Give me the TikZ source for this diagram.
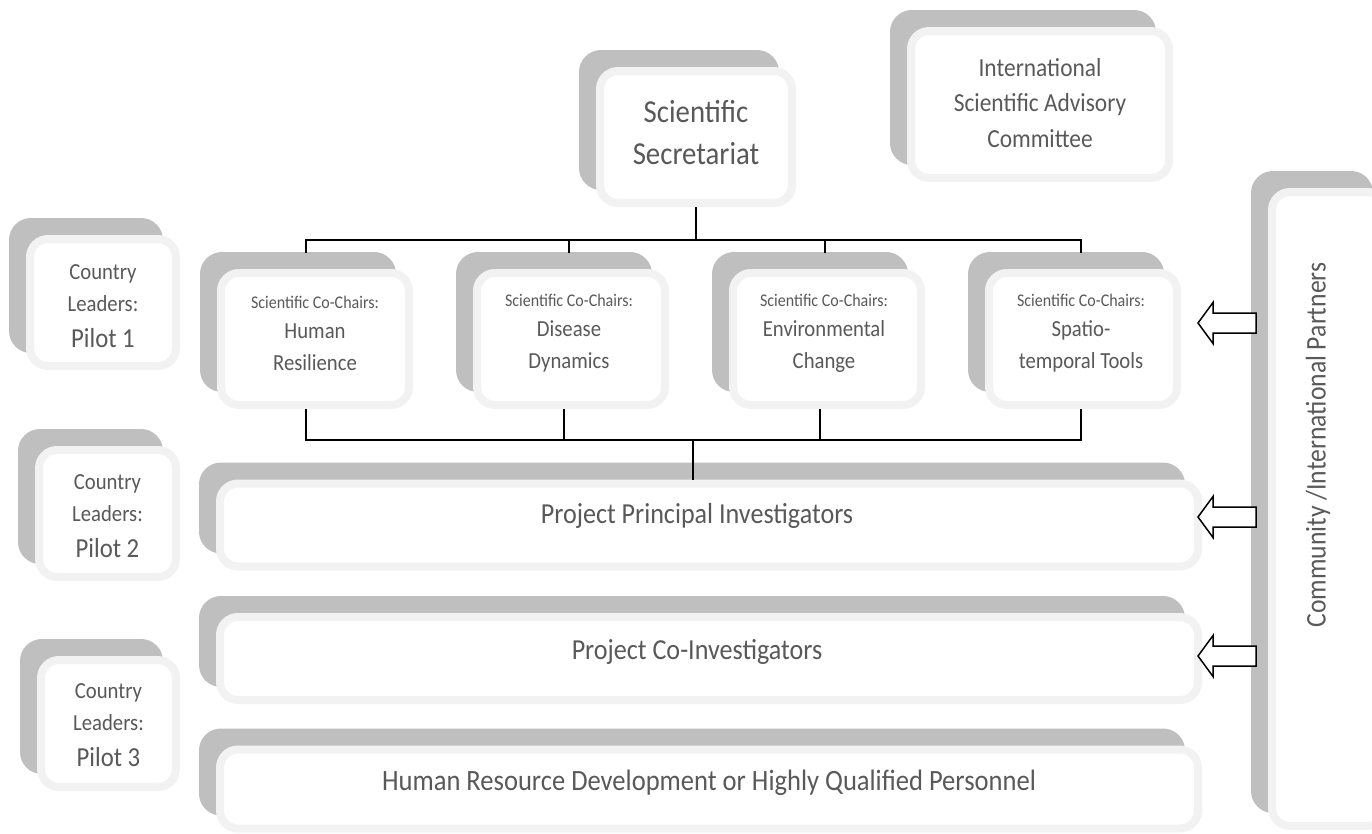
\documentclass[tikz,border=0pt]{standalone}
\usepackage{fontspec}
\setmainfont{Carlito}[FakeStretch=0.9]
\usetikzlibrary{shadows}
\definecolor{sgray}{HTML}{BFBFBF}
\definecolor{bgray}{HTML}{F2F2F2}
\definecolor{tgray}{HTML}{595959}
\newcommand\fs[2]{\fontsize{#1}{#2}\selectfont}
\tikzset{
  box/.style={rounded corners=18pt, draw=bgray, line width=8pt, fill=white,
    inner sep=0pt, outer sep=4pt,
    general shadow={fill=sgray, draw=sgray, line width=8pt,
      shadow xshift=-17pt, shadow yshift=17pt}},
  txt/.style={text=tgray, align=center, inner sep=0pt},
  link/.style={draw=black, line width=1.8pt},
  barrow/.style={draw=black, fill=white, line width=1.5pt, line join=miter},
}
\begin{document}
\begin{tikzpicture}[x=1pt,y=-1pt]
\clip (0,0) rectangle (1372,833);
% boxes
\node[box, minimum width=192pt, minimum height=132pt] (sec) at (696,137) {};
\node[box, minimum width=258pt, minimum height=147pt] (isac) at (1040,104.5) {};
\node[box, minimum width=146pt, minimum height=127pt] (p1) at (103,302.5) {};
\node[box, minimum width=137pt, minimum height=127pt] (p2) at (107.5,513.5) {};
\node[box, minimum width=135pt, minimum height=127pt] (p3) at (108.5,723.5) {};
\node[box, minimum width=188pt, minimum height=132pt] (c1) at (315,339) {};
\node[box, minimum width=188pt, minimum height=132pt] (c2) at (571,339) {};
\node[box, minimum width=188pt, minimum height=132pt] (c3) at (827,339) {};
\node[box, minimum width=188pt, minimum height=132pt] (c4) at (1083,339) {};
\node[box, minimum width=978pt, minimum height=83pt] (ppi) at (709,525) {};
\node[box, minimum width=978pt, minimum height=83pt] (pci) at (709,658.5) {};
\node[box, minimum width=978pt, minimum height=79pt] (hr) at (709,789) {};
\node[box, minimum width=114pt, minimum height=634pt] (comm) at (1329,509) {};
% texts
\node[txt, font=\fs{32}{42}] (sect) at (696,133) {Scientific\\Secretariat};
\node[txt, font=\fs{26}{35.5}] (isact) at (1040,103) {International\\Scientific Advisory\\Committee};
\node[txt, font=\fs{23}{32}] (p1t) at (103,306) {Country\\Leaders:\\[3.5pt]{\fs{27.5}{36}Pilot 1}};
\node[txt, font=\fs{23}{32}] (p2t) at (107.5,516) {Country\\Leaders:\\[3.5pt]{\fs{27.5}{36}Pilot 2}};
\node[txt, font=\fs{23}{32}] (p3t) at (108.5,725) {Country\\Leaders:\\[3.5pt]{\fs{27.5}{36}Pilot 3}};
\node[txt, font=\fs{23}{32}] (c1t) at (315,333) {{\fs{17.8}{20}Scientific Co-Chairs:}\\[-2pt]Human\\Resilience};
\node[txt, font=\fs{23}{32}] (c2t) at (569,333) {{\fs{17.8}{20}Scientific Co-Chairs:}\\[-2pt]Disease\\Dynamics};
\node[txt, font=\fs{23}{32}] (c3t) at (824,333) {{\fs{17.8}{20}Scientific Co-Chairs:}\\[-2pt]Environmental\\Change};
\node[txt, font=\fs{23}{32}] (c4t) at (1081,333) {{\fs{17.8}{20}Scientific Co-Chairs:}\\[-2pt]Spatio-\\temporal Tools};
\node[txt, font=\fs{29}{36}] (ppit) at (697,516) {Project Principal Investigators};
\node[txt, font=\fs{29}{36}] (pcit) at (697,652) {Project Co-Investigators};
\node[txt, font=\fs{29.5}{36}] (hrt) at (709,783) {Human Resource Development or Highly Qualified Personnel};
\node[txt, font=\fs{28.5}{36}, rotate=90] (commt) at (1318,445) {Community /International Partners};
% connectors
\coordinate (j0) at (696,240);
\coordinate (j1) at (306,240);
\coordinate (j4) at (1081,240);
\coordinate (e1) at (306,253);
\coordinate (e2) at (569,253);
\coordinate (e3) at (825,253);
\coordinate (e4) at (1081,253);
\draw[link] (sec.south) -- (j0);
\draw[link] (e1) -- (j1) -- (j4) -- (e4);
\draw[link] (e2) -- (e2 |- j0);
\draw[link] (e3) -- (e3 |- j0);
\coordinate (k0) at (693,440);
\coordinate (k1) at (306,440);
\coordinate (k2) at (564,440);
\coordinate (k3) at (820,440);
\coordinate (k4) at (1081,440);
\draw[link] (k1 |- c1.south) -- (k1) -- (k4) -- (k4 |- c4.south);
\draw[link] (k2 |- c2.south) -- (k2);
\draw[link] (k3 |- c3.south) -- (k3);
\draw[link] (k0) -- (k0 |- ppi.north);
% block arrows
\foreach \yy in {323,517,656}{
  \draw[barrow] (1198,\yy) -- (1213,\yy-20.5) -- (1213,\yy-10) -- (1256,\yy-10)
     -- (1256,\yy+10) -- (1213,\yy+10) -- (1213,\yy+20.5) -- cycle;
}
\end{tikzpicture}
\end{document}
